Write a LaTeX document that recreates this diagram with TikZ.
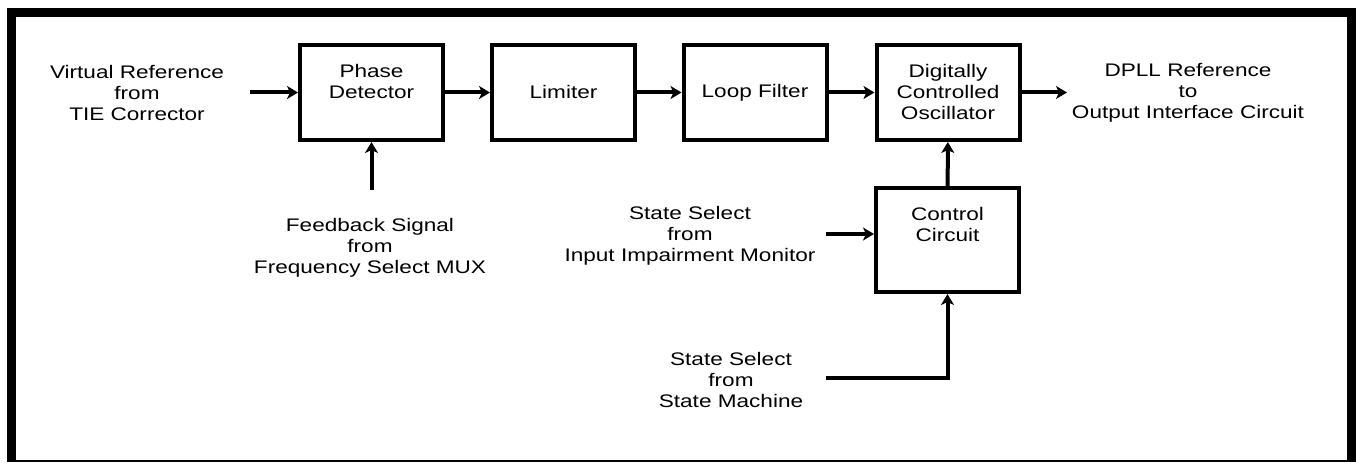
\documentclass[tikz,border=0pt]{standalone}
\usepackage{fontspec}
\setmainfont{Liberation Sans}[FakeStretch=1.24]
\usetikzlibrary{arrows.meta}

\begin{document}
\begin{tikzpicture}[x=0.5pt,y=-0.5pt,
	every node/.style={font=\fontsize{9.1}{10.5}\selectfont, align=center, inner sep=0pt},
	block/.style={draw, line width=2pt, minimum width=71.5pt, minimum height=47.5pt},
	toptext/.style={anchor=north, yshift=-10.5pt},
	signal/.style={line width=2pt, -{Stealth[length=5.5pt,width=6.5pt,inset=1.5pt]}},
]

% frame %{{{2

	\useasboundingbox (0,0) rectangle (1356,464);
	\draw[line width=4.5pt] (11.5,462) -- (11.5,12.5) -- (1351.5,12.5) -- (1351.5,462);
	\draw[line width=1pt] (7,461.5) -- (1356,461.5);

% blocks %{{{2

	\node[block, label={[toptext]north:Phase\\Detector}] (pd) at (371.5,92.5) {};
	\node[block] (lim) at (563.5,92.5) {Limiter};
	\node[block] (lf) at (755,92.5) {Loop Filter};
	\node[block] (dco) at (948,92.5) {Digitally\\Controlled\\Oscillator};
	\node[block, minimum height=52pt, label={[toptext]north:Control\\Circuit}] (cc) at (947.5,240) {};

% signal labels %{{{2

	\node (vref) at (137,93) {Virtual Reference\\from\\TIE Corrector};
	\node (dpll) at (1188,93) {DPLL Reference\\to\\Output Interface Circuit};
	\node (fb) at (370,248) {Feedback Signal\\from\\Frequency Select MUX};
	\node (iim) at (690,236) {State Select\\from\\Input Impairment Monitor};
	\node (sm) at (731,380) {State Select\\from\\State Machine};

% free ends %{{{2

	\coordinate (vin) at (250,92.5);
	\coordinate (fbin) at (371.5,190);
	\coordinate (dout) at (1067,92.5);
	\coordinate (iimin) at (826,234);
	\coordinate (smin) at (826,378);

% signals %{{{2

	\draw[signal] (vin) -- (pd.west);
	\draw[signal] (fbin) -- (pd.south);
	\draw[signal] (pd) -- (lim);
	\draw[signal] (lim) -- (lf);
	\draw[signal] (lf) -- (dco);
	\draw[signal] (dco) -- (dout);
	\draw[signal] (cc) -- (dco);
	\draw[signal] (iimin) -- (iimin -| cc.west);
	\draw[signal] (smin) -| (cc.south);

% closing %{{{2

\end{tikzpicture}
\end{document}
